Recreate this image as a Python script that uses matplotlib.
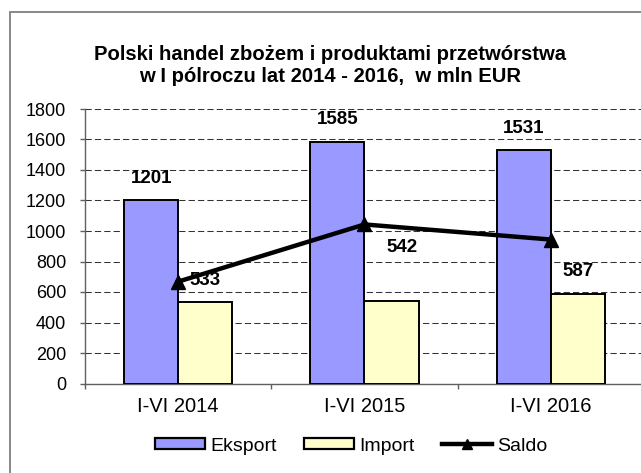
import matplotlib
matplotlib.use("Agg")
import matplotlib.pyplot as plt
from matplotlib.patches import Rectangle
from matplotlib.lines import Line2D
import numpy as np

plt.rcParams['font.family'] = ['Liberation Sans', 'DejaVu Sans']

# dane
okresy = ["I-VI 2014", "I-VI 2015", "I-VI 2016"]
eksport = [1201, 1585, 1531]
import_ = [533, 542, 587]
saldo = [668, 1043, 944]
tytul_1 = "Polski handel zbożem i produktami przetwórstwa"
tytul_2 = "w I pólroczu lat 2014 - 2016,  w mln EUR"

W, H = 641, 473
fig = plt.figure(figsize=(W / 100, H / 100), dpi=100)

# ramka wykresu (przycieta z prawej i z dolu)
fig.patches.append(Rectangle((9.5 / W, -0.1), 1.2, (H - 12.5) / H + 0.1,
                             transform=fig.transFigure, fill=False,
                             edgecolor='#7f7f7f', linewidth=1.3))

ax = fig.add_axes([85 / W, (H - 383.5) / H, (644 - 85) / W, (383.5 - 109) / H])

x = np.arange(len(okresy))
szer = 0.29
kol_eks = '#9999ff'
kol_imp = '#ffffcc'

ax.bar(x - szer / 2, eksport, szer, color=kol_eks, edgecolor='black', linewidth=1.4, zorder=3)
ax.bar(x + szer / 2, import_, szer, color=kol_imp, edgecolor='black', linewidth=1.4, zorder=3)
ax.plot(x, saldo, color='black', linewidth=3.2, marker='^', markersize=10,
        zorder=4, clip_on=False)

# etykiety wartosci
for i in range(len(okresy)):
    ax.annotate(str(eksport[i]), (x[i] - szer / 2, eksport[i]), xytext=(0, 22),
                textcoords='offset pixels', ha='center', va='center',
                fontsize=13.5, fontweight='bold', zorder=5)
for i in range(len(okresy)):
    dx, dy = 0, 22
    if i == 1:
        dx, dy = 11, 53   # etykieta przesunieta recznie
    ax.annotate(str(import_[i]), (x[i] + szer / 2, import_[i]), xytext=(dx, dy),
                textcoords='offset pixels', ha='center', va='center',
                fontsize=13.5, fontweight='bold', zorder=5)

ax.set_xlim(-0.5, len(okresy) - 0.5)
ax.set_ylim(0, 1800)
ax.set_yticks(range(0, 1801, 200))
ax.set_xticks(x)
ax.set_xticklabels(okresy, fontsize=14.5)
ax.set_xticks(np.arange(-0.5, len(okresy), 1), minor=True)
ax.tick_params(axis='x', which='major', length=0, pad=10)
ax.tick_params(axis='x', which='minor', length=3.6, color='#606060', width=1)
ax.tick_params(axis='y', length=3.6, color='#606060', width=1, pad=10, labelsize=13)

ax.grid(axis='y', color='#333333', linestyle=(0, (6, 3)), linewidth=0.75, zorder=0)
ax.set_axisbelow(True)
for s in ['top', 'right']:
    ax.spines[s].set_visible(False)
for s in ['left', 'bottom']:
    ax.spines[s].set_color('#606060')
    ax.spines[s].set_linewidth(1)

fig.text(330 / W, (H - 60) / H, tytul_1, ha='center', va='baseline',
         fontsize=14.6, fontweight='bold')
fig.text(330 / W, (H - 81.7) / H, tytul_2, ha='center', va='baseline',
         fontsize=14.6, fontweight='bold')

uchwyty = [
    Rectangle((0, 0), 1, 1, facecolor=kol_eks, edgecolor='black', linewidth=1.6),
    Rectangle((0, 0), 1, 1, facecolor=kol_imp, edgecolor='black', linewidth=1.6),
    Line2D([], [], color='black', linewidth=3.2, marker='^', markersize=7),
]
fig.legend(uchwyty, ["Eksport", "Import", "Saldo"], loc='center',
           bbox_to_anchor=(351 / W, (H - 446) / H), ncol=3, frameon=False,
           fontsize=14, handlelength=2.6, handleheight=0.48,
           handletextpad=0.25, columnspacing=1.4, borderpad=0)

fig.savefig("out.png", dpi=100)
